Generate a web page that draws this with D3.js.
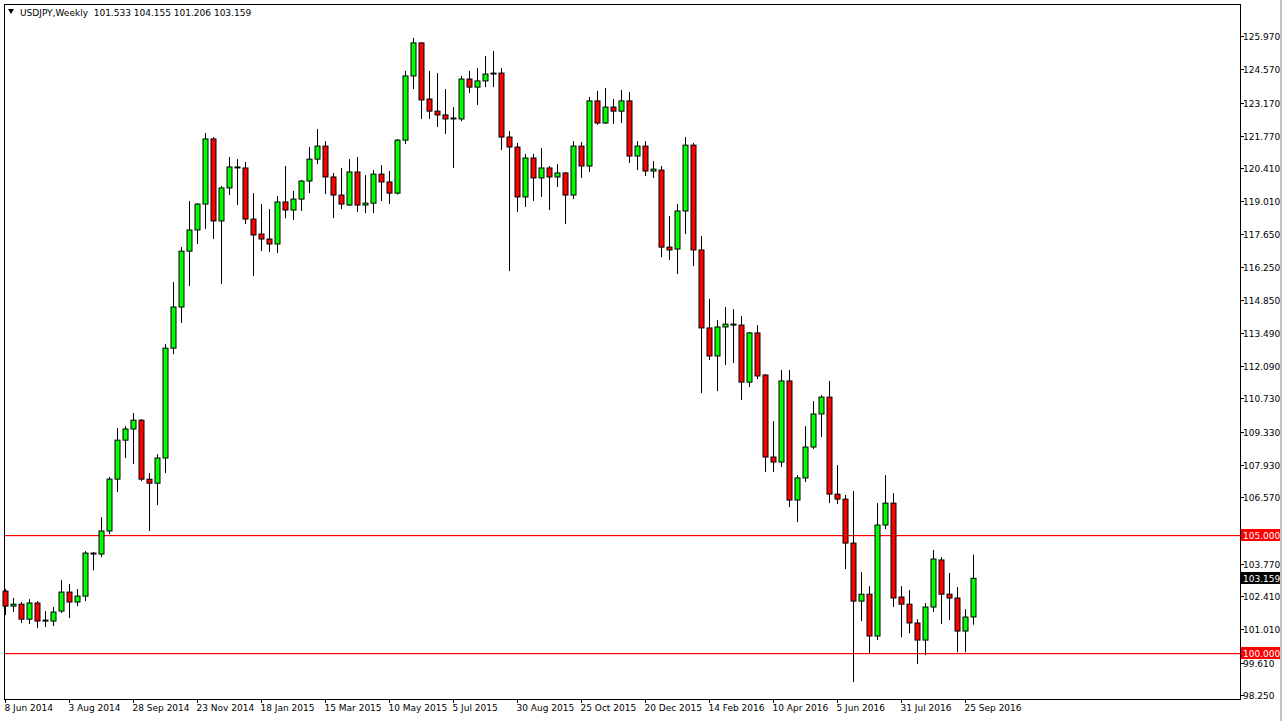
<!DOCTYPE html>
<html>
<head>
<meta charset="UTF-8">
<script src="https://cdn.jsdelivr.net/npm/d3@7/dist/d3.min.js"></script>
<style>
  body { margin: 0; background: #fff; }
  svg { display: block; font-family: 'DejaVu Sans', sans-serif; }
</style>
</head>
<body>
<svg id="chart" width="1282" height="721"></svg>
<script>
// weekly USDJPY candles [open, high, low, close], first week 8 Jun 2014
var candles = [
  [102.62,102.71,101.61,101.99],[101.99,102.33,101.74,102.07],[102.07,102.16,101.28,101.44],[101.44,102.28,101.23,102.12],
  [102.12,102.20,101.06,101.36],[101.36,101.78,101.11,101.40],[101.36,101.95,101.15,101.74],[101.78,103.08,101.70,102.58],
  [102.58,102.92,101.49,102.16],[102.16,102.71,101.99,102.41],[102.41,104.30,102.20,104.22],[104.18,104.26,103.50,104.22],
  [104.18,105.73,104.05,105.15],[105.15,107.42,105.02,107.33],[107.33,109.48,106.79,108.97],[108.97,109.56,108.22,109.44],
  [109.44,110.11,107.96,109.81],[109.81,109.85,107.25,107.33],[107.33,107.59,105.15,107.16],[107.16,108.38,106.24,108.22],
  [108.22,113.01,107.59,112.84],[112.84,115.62,112.59,114.57],[114.57,117.09,113.90,116.92],[116.92,119.03,115.45,117.81],
  [117.81,118.94,117.22,118.90],[118.90,121.89,117.85,121.64],[121.64,121.72,117.43,118.19],[118.19,119.66,115.54,119.58],
  [119.58,120.88,119.28,120.46],[120.42,120.79,118.86,120.46],[120.42,120.67,118.06,118.27],[118.27,119.36,115.87,117.60],
  [117.64,118.90,116.92,117.43],[117.43,118.69,116.88,117.22],[117.22,119.24,116.84,118.99],[118.99,120.50,118.31,118.65],
  [118.65,119.45,118.23,119.11],[119.11,119.91,118.61,119.87],[119.87,121.30,119.36,120.79],[120.79,122.06,120.58,121.34],
  [121.34,121.55,119.32,120.04],[120.04,120.21,118.31,119.28],[119.28,120.42,118.69,118.90],[118.86,120.79,118.82,120.25],
  [120.25,120.88,118.57,118.86],[118.86,120.12,118.52,118.94],[118.94,120.33,118.52,120.16],[120.16,120.54,119.03,119.83],
  [119.83,120.29,118.90,119.36],[119.36,121.64,119.30,121.59],[121.59,124.50,121.43,124.29],[124.29,125.89,123.74,125.68],
  [125.68,125.70,122.48,123.28],[123.32,124.50,122.48,122.81],[122.81,124.41,122.14,122.65],[122.65,123.74,121.85,122.48],
  [122.48,122.98,120.42,122.52],[122.48,124.29,122.39,124.16],[124.16,124.50,123.57,123.82],[123.82,124.62,123.07,124.08],
  [124.08,125.13,123.82,124.37],[124.37,125.34,123.82,124.41],[124.41,124.62,121.17,121.72],[121.72,121.97,116.08,121.30],
  [121.30,121.47,118.57,119.20],[119.20,121.01,118.78,120.84],[120.84,121.01,119.03,120.00],[120.00,121.26,119.20,120.42],
  [120.42,120.50,118.65,120.04],[120.04,120.58,119.62,120.21],[120.21,120.25,118.06,119.28],[119.28,121.55,119.11,121.34],
  [121.34,121.51,120.00,120.50],[120.50,123.40,120.25,123.24],[123.24,123.66,122.23,122.31],[122.31,123.78,122.27,122.98],
  [122.98,123.32,122.27,122.81],[122.81,123.70,122.31,123.24],[123.24,123.61,120.63,120.92],[120.92,121.55,120.33,121.34],
  [121.34,121.55,120.08,120.29],[120.29,120.71,120.00,120.37],[120.33,120.50,116.67,117.09],[117.09,118.40,116.55,116.97],
  [117.01,118.90,115.96,118.61],[118.61,121.72,117.64,121.38],[121.38,121.47,116.29,116.97],[116.97,117.56,110.95,113.69],
  [113.69,114.91,112.34,112.51],[112.51,114.02,111.03,113.73],[113.73,114.57,112.13,113.85],[113.81,114.48,112.21,113.85],
  [113.81,114.19,110.66,111.41],[111.41,113.52,111.20,113.48],[113.48,113.81,111.54,111.67],[111.71,111.75,107.63,108.26],
  [108.26,109.77,107.63,108.05],[108.05,111.92,107.84,111.46],[111.46,111.92,106.15,106.45],[106.45,107.50,105.52,107.38],
  [107.38,109.56,107.21,108.68],[108.68,110.61,108.60,110.07],[110.07,110.87,109.10,110.78],[110.78,111.46,106.32,106.70],
  [106.70,107.92,106.28,106.49],[106.49,106.66,103.55,104.64],[104.64,106.83,98.79,102.20],[102.20,103.42,101.36,102.49],
  [102.49,102.83,100.01,100.73],[100.73,106.32,100.56,105.40],[105.40,107.50,105.23,106.32],[106.32,106.74,101.95,102.33],
  [102.37,102.83,100.68,102.07],[102.07,102.66,100.85,101.28],[101.28,101.44,99.55,100.56],[100.56,102.12,99.93,101.95],
  [101.95,104.35,101.74,103.97],[103.93,104.05,101.23,102.49],[102.49,103.38,101.40,102.33],[102.33,102.79,100.05,100.94],
  [100.94,101.86,100.05,101.53],[101.533,104.155,101.206,103.159]
];
var dateLabels = ["8 Jun 2014","3 Aug 2014","28 Sep 2014","23 Nov 2014","18 Jan 2015","15 Mar 2015","10 May 2015","5 Jul 2015",
  "30 Aug 2015","25 Oct 2015","20 Dec 2015","14 Feb 2016","10 Apr 2016","5 Jun 2016","31 Jul 2016","25 Sep 2016"];
var dateLabelIndex = [0,8,16,24,32,40,48,56,64,72,80,88,96,104,112,120];
var priceTicks = [125.970,124.570,123.170,121.770,120.410,119.010,117.650,116.250,114.850,113.490,112.090,110.730,
  109.330,107.930,106.570,103.770,102.410,101.010,99.610,98.250];
var levels = [105.000, 100.000];
var lastPrice = 103.159;
var title = "USDJPY,Weekly  101.533 104.155 101.206 103.159";

var svg = d3.select("#chart");
var plotRight = 1240, plotBottom = 699;

var x = d3.scaleLinear().domain([0, 121]).range([5, 973]);
var y = d3.scaleLinear().domain([98.25, 125.97]).range([695, 36]);

// frame
svg.append("rect").attr("x", 4.5).attr("y", 4.5).attr("width", plotRight - 4).attr("height", plotBottom - 4)
  .attr("fill", "none").attr("stroke", "#000");
svg.append("line").attr("x1", 1281).attr("x2", 1281).attr("y1", 0).attr("y2", 721).attr("stroke", "#888");

// horizontal levels (1px red rects)
svg.selectAll("rect.lvl").data(levels).enter().append("rect")
  .attr("class", "lvl")
  .attr("x", 5).attr("width", plotRight - 5)
  .attr("y", function(d) { return Math.round(y(d)); })
  .attr("height", 1.2)
  .attr("fill", "#ff0000");

// wicks
var g = svg.append("g");
g.selectAll("line.wick").data(candles).enter().append("line")
  .attr("class", "wick")
  .attr("x1", function(d, i) { return Math.round(x(i)) + 0.5; })
  .attr("x2", function(d, i) { return Math.round(x(i)) + 0.5; })
  .attr("y1", function(d) { return y(d[1]); })
  .attr("y2", function(d) { return y(d[2]); })
  .attr("stroke", "#000");

// bodies
g.selectAll("rect.body").data(candles).enter().append("rect")
  .attr("class", "body")
  .attr("x", function(d, i) { return Math.round(x(i)) - 2; })
  .attr("y", function(d) { return Math.min(y(d[0]), y(d[3])); })
  .attr("width", 5)
  .attr("height", function(d) { return Math.max(0.5, Math.abs(y(d[0]) - y(d[3]))); })
  .attr("fill", function(d) { return d[3] >= d[0] ? "#00ff00" : "#ff0000"; })
  .attr("stroke", "#000").attr("stroke-width", 1);

// right price axis
var ya = svg.append("g").attr("font-size", 9);
priceTicks.forEach(function(p) {
  var yy = Math.round(y(p)) + 0.5;
  ya.append("line").attr("x1", plotRight).attr("x2", plotRight + 4).attr("y1", yy).attr("y2", yy).attr("stroke", "#000");
  ya.append("text").attr("x", plotRight + 3).attr("y", yy + 3.5).text(p.toFixed(3));
});
function tag(p, bg) {
  var yy = Math.round(y(p));
  ya.append("rect").attr("x", plotRight + 1).attr("y", yy - 6).attr("width", 39).attr("height", 12).attr("fill", bg);
  ya.append("text").attr("x", plotRight + 3).attr("y", yy + 3.5).attr("fill", "#fff").text(p.toFixed(3));
}
levels.forEach(function(p) { tag(p, "#ff0000"); });
tag(lastPrice, "#000");

// bottom date axis
var xa = svg.append("g").attr("font-size", 9);
dateLabels.forEach(function(t, k) {
  var xx = Math.round(x(dateLabelIndex[k])) + 0.5;
  xa.append("line").attr("x1", xx).attr("x2", xx).attr("y1", plotBottom).attr("y2", plotBottom + 4).attr("stroke", "#000");
  xa.append("text").attr("x", xx - 1).attr("y", 711).text(t);
});

// title
svg.append("path").attr("d", "M8,9 L14,9 L11,14 Z").attr("fill", "#000");
svg.append("text").attr("x", 20).attr("y", 16).attr("font-size", 9).style("white-space", "pre").text(title);
</script>
</body>
</html>
